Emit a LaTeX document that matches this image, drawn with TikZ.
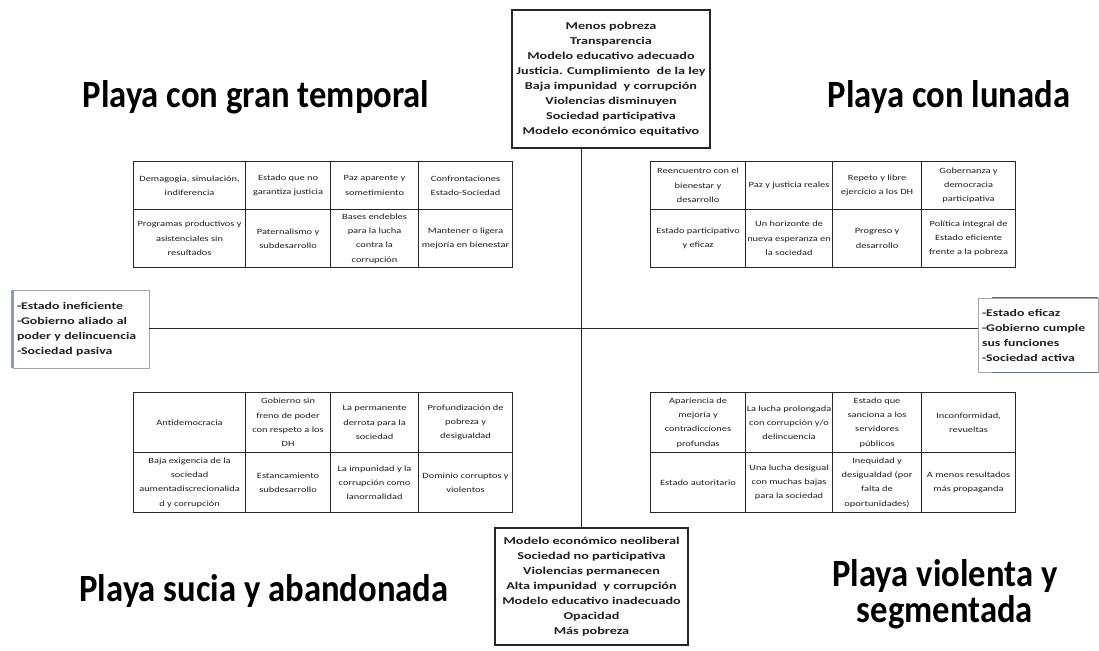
\documentclass[tikz,border=0pt]{standalone}
\usepackage{fontspec}
\setmainfont{Carlito}
\newfontfamily\anchofont[FakeStretch=1.35]{Carlito}
\newfontfamily\celdafont[FakeStretch=1.3]{Carlito}
\newfontfamily\titulofont[FakeStretch=0.9]{Carlito}
\usetikzlibrary{calc}
\definecolor{lineacolor}{HTML}{262626}
\definecolor{sombracolor}{HTML}{8A9CB8}
\colorlet{bordecolor}{black!35}
\colorlet{textocolor}{black!88}
\tikzstyle{celda} =[
    draw=lineacolor,
    line width=1.1pt,
    anchor=north west,
    align=center,
    inner sep=1pt,
    text=textocolor,
    font=\celdafont\fontsize{8}{14.3}\selectfont
    ]
\tikzstyle{metabox} = [
    draw=lineacolor,
    line width=1.1pt,
    align=center,
    text=textocolor,
    font=\anchofont\bfseries\fontsize{10.5}{15}\selectfont
    ]
\tikzstyle{ladobox} = [
    draw=bordecolor,
    line width=0.8pt,
    align=left,
    inner sep=4pt,
    text=textocolor,
    font=\anchofont\bfseries\fontsize{10.2}{15}\selectfont
    ]
\tikzstyle{titulo} = [
    align=center,
    text=black,
    font=\titulofont\bfseries\fontsize{38.5}{36}\selectfont
    ]
\tikzstyle{eje} = [draw=lineacolor, line width=1pt]
\newcommand{\celda}[6]{% cell: name, x, y, width, height, text
\node[celda, minimum width=#4pt, minimum height=#5pt] (#1) at (#2,#3) {#6};}

\begin{document}
\begin{tikzpicture}[x=1pt,y=-1pt]
\useasboundingbox[fill=white] (0,0) rectangle (1099,650);

% ejes
\coordinate (centro) at (581,328);
\node[metabox, minimum width=198pt, minimum height=138pt] (metas) at (611,79) {%
Menos pobreza\\
Transparencia\\
Modelo educativo adecuado\\
Justicia. Cumplimiento\ \ de la ley\\
Baja impunidad\ \ y corrupción\\
Violencias disminuyen\\
Sociedad participativa\\
Modelo económico equitativo};
\node[metabox, minimum width=193pt, minimum height=117pt] (escenario) at (591.5,586.5) {%
Modelo económico neoliberal\\
Sociedad no participativa\\
Violencias permanecen\\
Alta impunidad\ \ y corrupción\\
Modelo educativo inadecuado\\
Opacidad\\
Más pobreza};
\node[ladobox, text width=128pt, minimum height=78pt] (izq) at (81,329) {%
-Estado ineficiente\\
-Gobierno aliado\ al\\
poder y delincuencia\\
-Sociedad pasiva};
\node[ladobox, text width=112pt, minimum height=74pt] (der) at (1038,335) {%
-Estado eficaz\\
-Gobierno cumple\\
sus funciones\\
-Sociedad activa};
\draw[sombracolor, line width=2.5pt] (izq.north west) -- (izq.south west);
\draw[sombracolor!70!black, line width=1.5pt] ([xshift=14pt]der.north west) -- (der.north east);
\draw[sombracolor!70!black, line width=1.5pt] ([xshift=14pt]der.south west) -- (der.south east);
\draw[eje] (metas.south -| centro) -- (escenario.north -| centro);
\draw[eje] (izq.east |- centro) -- (der.west |- centro);

% gran temporal
\celda{ta1}{133}{161}{112}{48}{Demagogia, simulación,\\ indiferencia}
\celda{ta2}{245}{161}{85}{48}{Estado que no\\ garantiza justicia}
\celda{ta3}{330}{161}{88}{48}{Paz aparente y\\ sometimiento}
\celda{ta4}{418}{161}{94}{48}{Confrontaciones\\ Estado-Sociedad}
\celda{tb1}{133}{209}{112}{58}{Programas productivos y\\ asistenciales sin\\ resultados}
\celda{tb2}{245}{209}{85}{58}{Paternalismo y\\ subdesarrollo}
\celda{tb3}{330}{209}{88}{58}{Bases endebles\\ para la lucha\\ contra la\\ corrupción}
\celda{tb4}{418}{209}{94}{58}{Mantener o ligera\\ mejoría en bienestar}

% lunada
\celda{la1}{650}{161}{95}{48}{Reencuentro con el\\ bienestar y\\ desarrollo}
\celda{la2}{745}{161}{87}{48}{Paz y justicia reales}
\celda{la3}{832}{161}{89}{48}{Repeto y libre\\ ejercicio a los DH}
\celda{la4}{921}{161}{94}{48}{Gobernanza y\\ democracia\\ participativa}
\celda{lb1}{650}{209}{95}{58}{Estado participativo\\ y eficaz}
\celda{lb2}{745}{209}{87}{58}{Un horizonte de\\ nueva esperanza en\\ la sociedad}
\celda{lb3}{832}{209}{89}{58}{Progreso y\\ desarrollo}
\celda{lb4}{921}{209}{94}{58}{Política integral de\\ Estado eficiente\\ frente a la pobreza}

% sucia y abandonada
\celda{sa1}{133}{392}{112}{60}{Antidemocracia}
\celda{sa2}{245}{392}{85}{60}{Gobierno sin\\ freno de poder\\ con respeto a los\\ DH}
\celda{sa3}{330}{392}{88}{60}{La permanente\\ derrota para la\\ sociedad}
\celda{sa4}{418}{392}{94}{60}{Profundización de\\ pobreza y\\ desigualdad}
\celda{sb1}{133}{452}{112}{60}{Baja exigencia de la\\ sociedad\\ aumentadiscrecionalida\\ d y corrupción}
\celda{sb2}{245}{452}{85}{60}{Estancamiento\\ subdesarrollo}
\celda{sb3}{330}{452}{88}{60}{La impunidad y la\\ corrupción como\\ lanormalidad}
\celda{sb4}{418}{452}{94}{60}{Dominio corruptos y\\ violentos}

% violenta y segmentada
\celda{va1}{650}{392}{95}{60}{Apariencia de\\ mejoría y\\ contradicciones\\ profundas}
\celda{va2}{745}{392}{87}{60}{La lucha prolongada\\ con corrupción y/o\\ delincuencia}
\celda{va3}{832}{392}{89}{60}{Estado que\\ sanciona a los\\ servidores\\ públicos}
\celda{va4}{921}{392}{94}{60}{Inconformidad,\\ revueltas}
\celda{vb1}{650}{452}{95}{60}{Estado autoritario}
\celda{vb2}{745}{452}{87}{60}{Una lucha desigual\\ con muchas bajas\\ para la sociedad}
\celda{vb3}{832}{452}{89}{60}{Inequidad y\\ desigualdad (por\\ falta de\\ oportunidades)}
\celda{vb4}{921}{452}{94}{60}{A menos resultados\\ más propaganda}

% titulos
\node[titulo] (temporal) at (256,97) {Playa con gran temporal};
\node[titulo] (lunada) at (949,97) {Playa con lunada};
\node[titulo] (sucia) at (264,591) {Playa sucia y abandonada};
\node[titulo] (violenta) at (945,594) {Playa violenta y\\ segmentada};
\end{tikzpicture}
\end{document}
